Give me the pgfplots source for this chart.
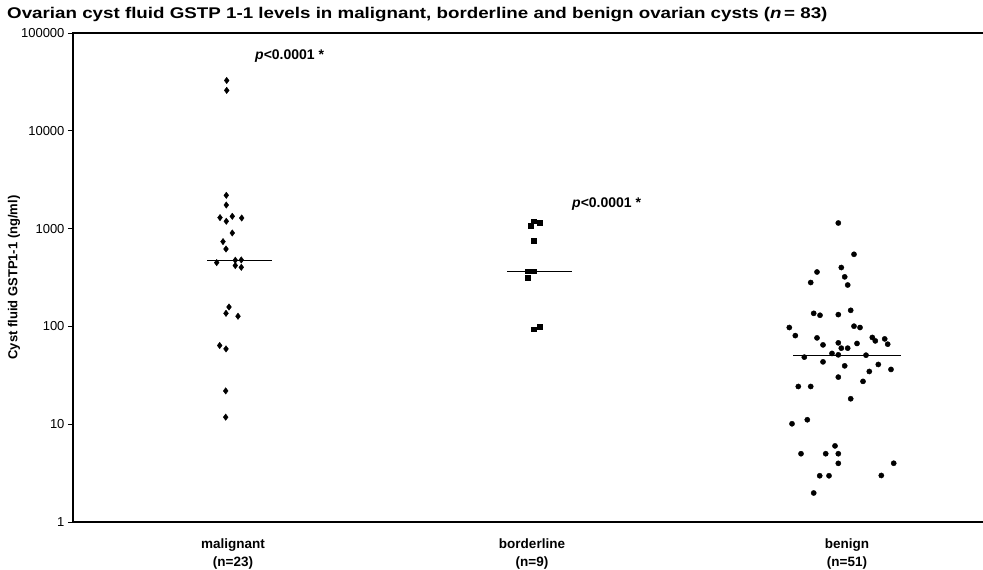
\documentclass[border=0pt]{standalone}
\usepackage{fontspec}
\setmainfont{Liberation Sans}
\newfontfamily\titlefont{Liberation Sans}[FakeStretch=1.21]
\usepackage{pgfplots}
\pgfplotsset{compat=1.18}
\begin{document}
\begin{tikzpicture}
\useasboundingbox (-73pt,-48pt) rectangle (910pt,522pt);
\begin{axis}[
  scale only axis, width=910pt, height=489pt,
  xmin=73, xmax=983, ymode=log, ymin=1, ymax=100000,
  axis x line*=bottom, axis y line*=left,
  axis line style={draw=none, -},
  clip=false,
  ytick={1,10,100,1000,10000,100000},
  yticklabels={1,10,100,1000,10000,100000},
  yminorticks=false,
  ytick pos=left, tick align=outside,
  major tick length=5pt,
  ytick style={line width=0.8pt, black},
  yticklabel style={font=\fontsize{13}{15}\selectfont},
  xtick={233,532,847},
  xticklabels={{malignant\\(n=23)},{borderline\\(n=9)},{benign\\(n=51)}},
  xtick style={draw=none},
  xticklabel style={align=center, font=\bfseries\fontsize{13.5}{18}\selectfont, yshift=-8pt},
  ylabel={Cyst fluid GSTP1-1 (ng/ml)},
  ylabel style={at={(axis description cs:-0.0648,0.5)}, anchor=center, font=\bfseries\fontsize{13}{15}\selectfont},
]
% frame (no right side)
\draw[line width=1.3pt, black] (axis description cs:1,1) -- (axis description cs:0,1) -- (axis description cs:0,0) -- (axis description cs:1,0);
% malignant
\addplot[only marks, mark=diamond*, mark size=3.2pt, mark options={fill=black, draw=black}] coordinates {
(226.7,32700) (226.7,25900) (226.3,2190) (226.3,1742) (220,1295) (226.3,1188)
(232.3,1336) (241.7,1283) (232.3,902) (223,736) (226,619) (216.7,449)
(235.3,475) (241.3,478) (235.3,419) (241.3,402) (229,158) (226,136)
(238,127) (219.7,63.8) (226,58.9) (225.7,21.9) (225.7,11.8)
};
% borderline
\addplot[only marks, mark=square*, mark size=2.4pt, mark options={fill=black, draw=black}] coordinates {
(530.3,1063) (533.7,1188) (539.7,1159) (533.7,747) (527.3,367) (533.7,367)
(527.3,316) (533.7,93.6) (539.3,98.8)
};
% benign
\addplot[only marks, mark=*, mark size=2.6pt, mark options={fill=black, draw=black}] coordinates {
(838.3,1141) (854,546) (817,360) (841.3,400) (810.7,281) (844.7,321)
(847.7,265) (813.7,136) (820,130) (838.3,132) (850.7,146) (789.3,97.4)
(795.3,80.5) (854,100.5) (860,97.4) (817,76.3) (823,64.7) (838.3,67.9)
(841.3,59.9) (847.7,59.9) (857,66.9) (872.3,77.1) (875.3,71.1) (884.7,74.5)
(887.7,65.8) (832,52.9) (838.3,51.2) (866,50.8) (804.3,48.5) (823,43.4)
(844.7,39.5) (878.3,40.8) (891,36.3) (869.3,34.6) (838.3,30.3) (863,27.4)
(798.3,24.3) (810.7,24.3) (850.7,18.2) (807.3,11.1) (792,10.1) (835,6.0)
(801,4.99) (825.7,4.99) (838.3,4.99) (838.3,3.98) (893.7,3.99) (819.7,2.97)
(829,2.97) (881.3,2.99) (813.7,1.98)
};
% medians
\addplot[black, line width=1.1pt] coordinates {(207,475) (272,475)};
\addplot[black, line width=1.1pt] coordinates {(507,366) (572,366)};
\addplot[black, line width=1.1pt] coordinates {(793,50.8) (901,50.8)};
\node[anchor=west, inner sep=0pt, font=\bfseries\fontsize{14}{16}\selectfont] at (axis cs:255,57500) {\textit{p}<0.0001 *};
\node[anchor=west, inner sep=0pt, font=\bfseries\fontsize{14}{16}\selectfont] at (axis cs:572,1771) {\textit{p}<0.0001 *};
\node[anchor=west, inner sep=0pt, font=\titlefont\bfseries\fontsize{15.5}{17}\selectfont] at (axis description cs:-0.0725,1.037) {Ovarian cyst fluid GSTP 1-1 levels in malignant, borderline and benign ovarian cysts (\textit{n}\,= 83)};
\end{axis}
\end{tikzpicture}
\end{document}
